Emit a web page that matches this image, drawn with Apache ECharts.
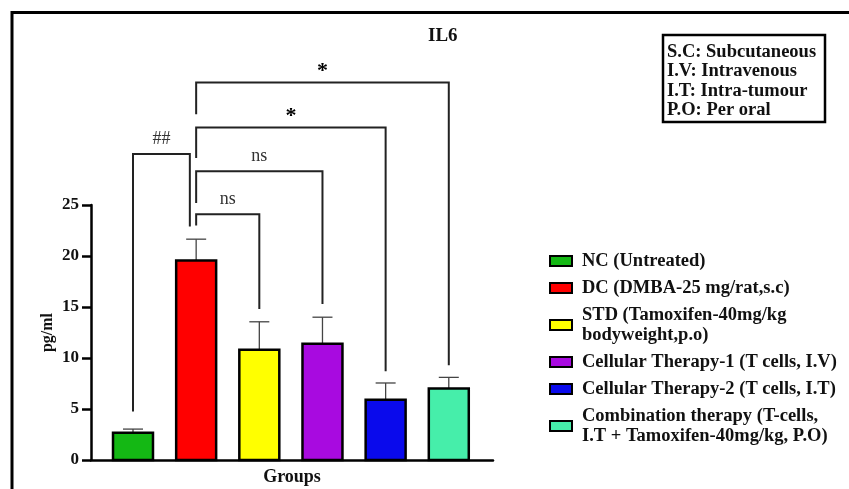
<!DOCTYPE html>
<html>
<head>
<meta charset="utf-8">
<script src="https://cdn.jsdelivr.net/npm/echarts@6/dist/echarts.min.js"></script>
<style>
  html, body { margin: 0; padding: 0; background: #fff; }
  #chart { width: 849px; height: 489px; }
</style>
</head>
<body>
<div id="chart"></div>
<script>
// groups in plot order, with mean and upper error (SEM)
var groups = [
  'NC (Untreated)',
  'DC (DMBA-25 mg/rat,s.c)',
  'STD (Tamoxifen-40mg/kg\nbodyweight,p.o)',
  'Cellular Therapy-1 (T cells, I.V)',
  'Cellular Therapy-2 (T cells, I.T)',
  'Combination therapy (T-cells,\nI.T + Tamoxifen-40mg/kg, P.O)'
];
var means = [2.68, 19.55, 10.8, 11.4, 5.9, 7.0];
var errors = [0.35, 2.1, 2.75, 2.6, 1.65, 1.1];
var colors = ['#14b814', '#ff0000', '#ffff00', '#a80ae0', '#0a0aec', '#46eeaa'];
var yTicks = [0, 5, 10, 15, 20, 25];

// significance brackets (positions in category index / pg/ml units)
var bracketLabels = ['##', 'ns', 'ns', '*', '*'];
var bracketLeft = [0, 1, 1, 1, 1];
var bracketRight = [0.9, 2, 3, 4, 5];
var bracketTop = [30.0, 24.1, 28.3, 32.6, 37.0];
var bracketLeftEnd = [4.75, 23.0, 25.2, 29.6, 33.9];
var bracketRightEnd = [22.9, 14.8, 15.3, 8.7, 9.3];

var abbrevs = ['S.C: Subcutaneous', 'I.V: Intravenous', 'I.T: Intra-tumour', 'P.O: Per oral'];

var serif = '"Liberation Serif", "Times New Roman", serif';

function renderBar(params, api) {
  var x = api.value(0), v = api.value(1), e = api.value(2);
  var base = api.coord([x, 0]);
  var top = api.coord([x, v]);
  var cap = api.coord([x, v + e]);
  var w = api.size([0.633, 0])[0];
  var capW = 20;
  return {
    type: 'group',
    children: [
      {
        type: 'line',
        shape: { x1: top[0], y1: top[1], x2: cap[0], y2: cap[1] },
        style: { stroke: '#444', lineWidth: 1.3 }
      },
      {
        type: 'line',
        shape: { x1: cap[0] - capW / 2, y1: cap[1], x2: cap[0] + capW / 2, y2: cap[1] },
        style: { stroke: '#444', lineWidth: 1.3 }
      },
      {
        type: 'rect',
        shape: { x: base[0] - w / 2, y: top[1], width: w, height: base[1] - top[1] },
        style: { fill: api.visual('color'), stroke: '#000', lineWidth: 2.5 }
      }
    ]
  };
}

function renderBracket(params, api) {
  var i = params.dataIndex;
  var l = api.coord([bracketLeft[i], bracketTop[i]]);
  var r = api.coord([bracketRight[i], bracketTop[i]]);
  var lb = api.coord([bracketLeft[i], bracketLeftEnd[i]]);
  var rb = api.coord([bracketRight[i], bracketRightEnd[i]]);
  var star = bracketLabels[i] === '*';
  return {
    type: 'group',
    children: [
      {
        type: 'polyline',
        shape: { points: [[lb[0], lb[1]], [l[0], l[1]], [r[0], r[1]], [rb[0], rb[1]]] },
        style: { stroke: '#222', lineWidth: 2, fill: null }
      },
      {
        type: 'text',
        x: (l[0] + r[0]) / 2,
        y: l[1] - (star ? 11 : 15),
        style: {
          text: bracketLabels[i],
          fill: star ? '#000' : '#333',
          font: (star ? 'bold 22px ' : '18px ') + serif,
          align: 'center',
          verticalAlign: 'middle'
        }
      }
    ]
  };
}

var series = groups.map(function (g, i) {
  return {
    name: g,
    type: 'custom',
    renderItem: renderBar,
    clip: false,
    itemStyle: { color: colors[i], borderColor: '#000', borderWidth: 2 },
    data: [[i, means[i], errors[i]]],
    z: 3
  };
});
series.push({
  type: 'custom',
  renderItem: renderBracket,
  clip: false,
  silent: true,
  data: bracketLabels.map(function (b, i) { return [bracketLeft[i], bracketTop[i]]; }),
  z: 2
});

var chart = echarts.init(document.getElementById('chart'));
chart.setOption({
  animation: false,
  backgroundColor: '#fff',
  title: {
    text: 'IL6',
    left: 423,
    top: 22,
    textStyle: { fontFamily: serif, fontWeight: 'bold', fontSize: 19, color: '#111' }
  },
  grid: { left: 91, right: 356, top: 205, bottom: 29, outerBoundsMode: 'none', containLabel: false },
  xAxis: {
    type: 'value',
    min: -0.665,
    max: 5.7,
    name: 'Groups',
    nameLocation: 'middle',
    nameGap: 8,
    nameTextStyle: { fontFamily: serif, fontWeight: 'bold', fontSize: 18, color: '#111' },
    axisLine: { show: true, onZero: false, lineStyle: { color: '#000', width: 2.5 } },
    axisTick: { show: false },
    axisLabel: { show: false },
    splitLine: { show: false }
  },
  yAxis: {
    type: 'value',
    min: yTicks[0],
    max: yTicks[yTicks.length - 1],
    interval: 5,
    name: 'pg/ml',
    nameLocation: 'middle',
    nameRotate: 90,
    nameGap: 35,
    nameTextStyle: { fontFamily: serif, fontWeight: 'bold', fontSize: 16, color: '#111' },
    axisLine: { show: true, onZero: false, lineStyle: { color: '#000', width: 2.5 } },
    axisTick: { show: true, length: 9, lineStyle: { color: '#000', width: 2.5 } },
    axisLabel: { margin: 12, fontFamily: serif, fontWeight: 'bold', fontSize: 17, color: '#111' },
    splitLine: { show: false }
  },
  legend: {
    orient: 'vertical',
    left: 544,
    top: 246,
    itemWidth: 22,
    itemHeight: 10,
    itemGap: 7,
    icon: 'rect',
    data: groups,
    selectedMode: false,
    itemStyle: { borderColor: '#000', borderWidth: 2 },
    textStyle: {
      fontFamily: serif,
      fontWeight: 'bold',
      fontSize: 18.5,
      lineHeight: 20,
      color: '#111',
      padding: [0, 0, 0, 5]
    }
  },
  graphic: [
    {
      type: 'polyline',
      shape: { points: [[12, 489], [12, 12.5], [849, 12.5]] },
      style: { stroke: '#000', lineWidth: 3, fill: null }
    },
    {
      type: 'rect',
      shape: { x: 663, y: 35, width: 162, height: 87 },
      style: { stroke: '#000', lineWidth: 2.5, fill: '#fff' }
    },
    {
      type: 'text',
      left: 667,
      top: 42,
      style: {
        text: abbrevs.join('\n'),
        font: 'bold 18.5px ' + serif,
        lineHeight: 19.5,
        fill: '#111'
      }
    }
  ],
  series: series
});
</script>
</body>
</html>
